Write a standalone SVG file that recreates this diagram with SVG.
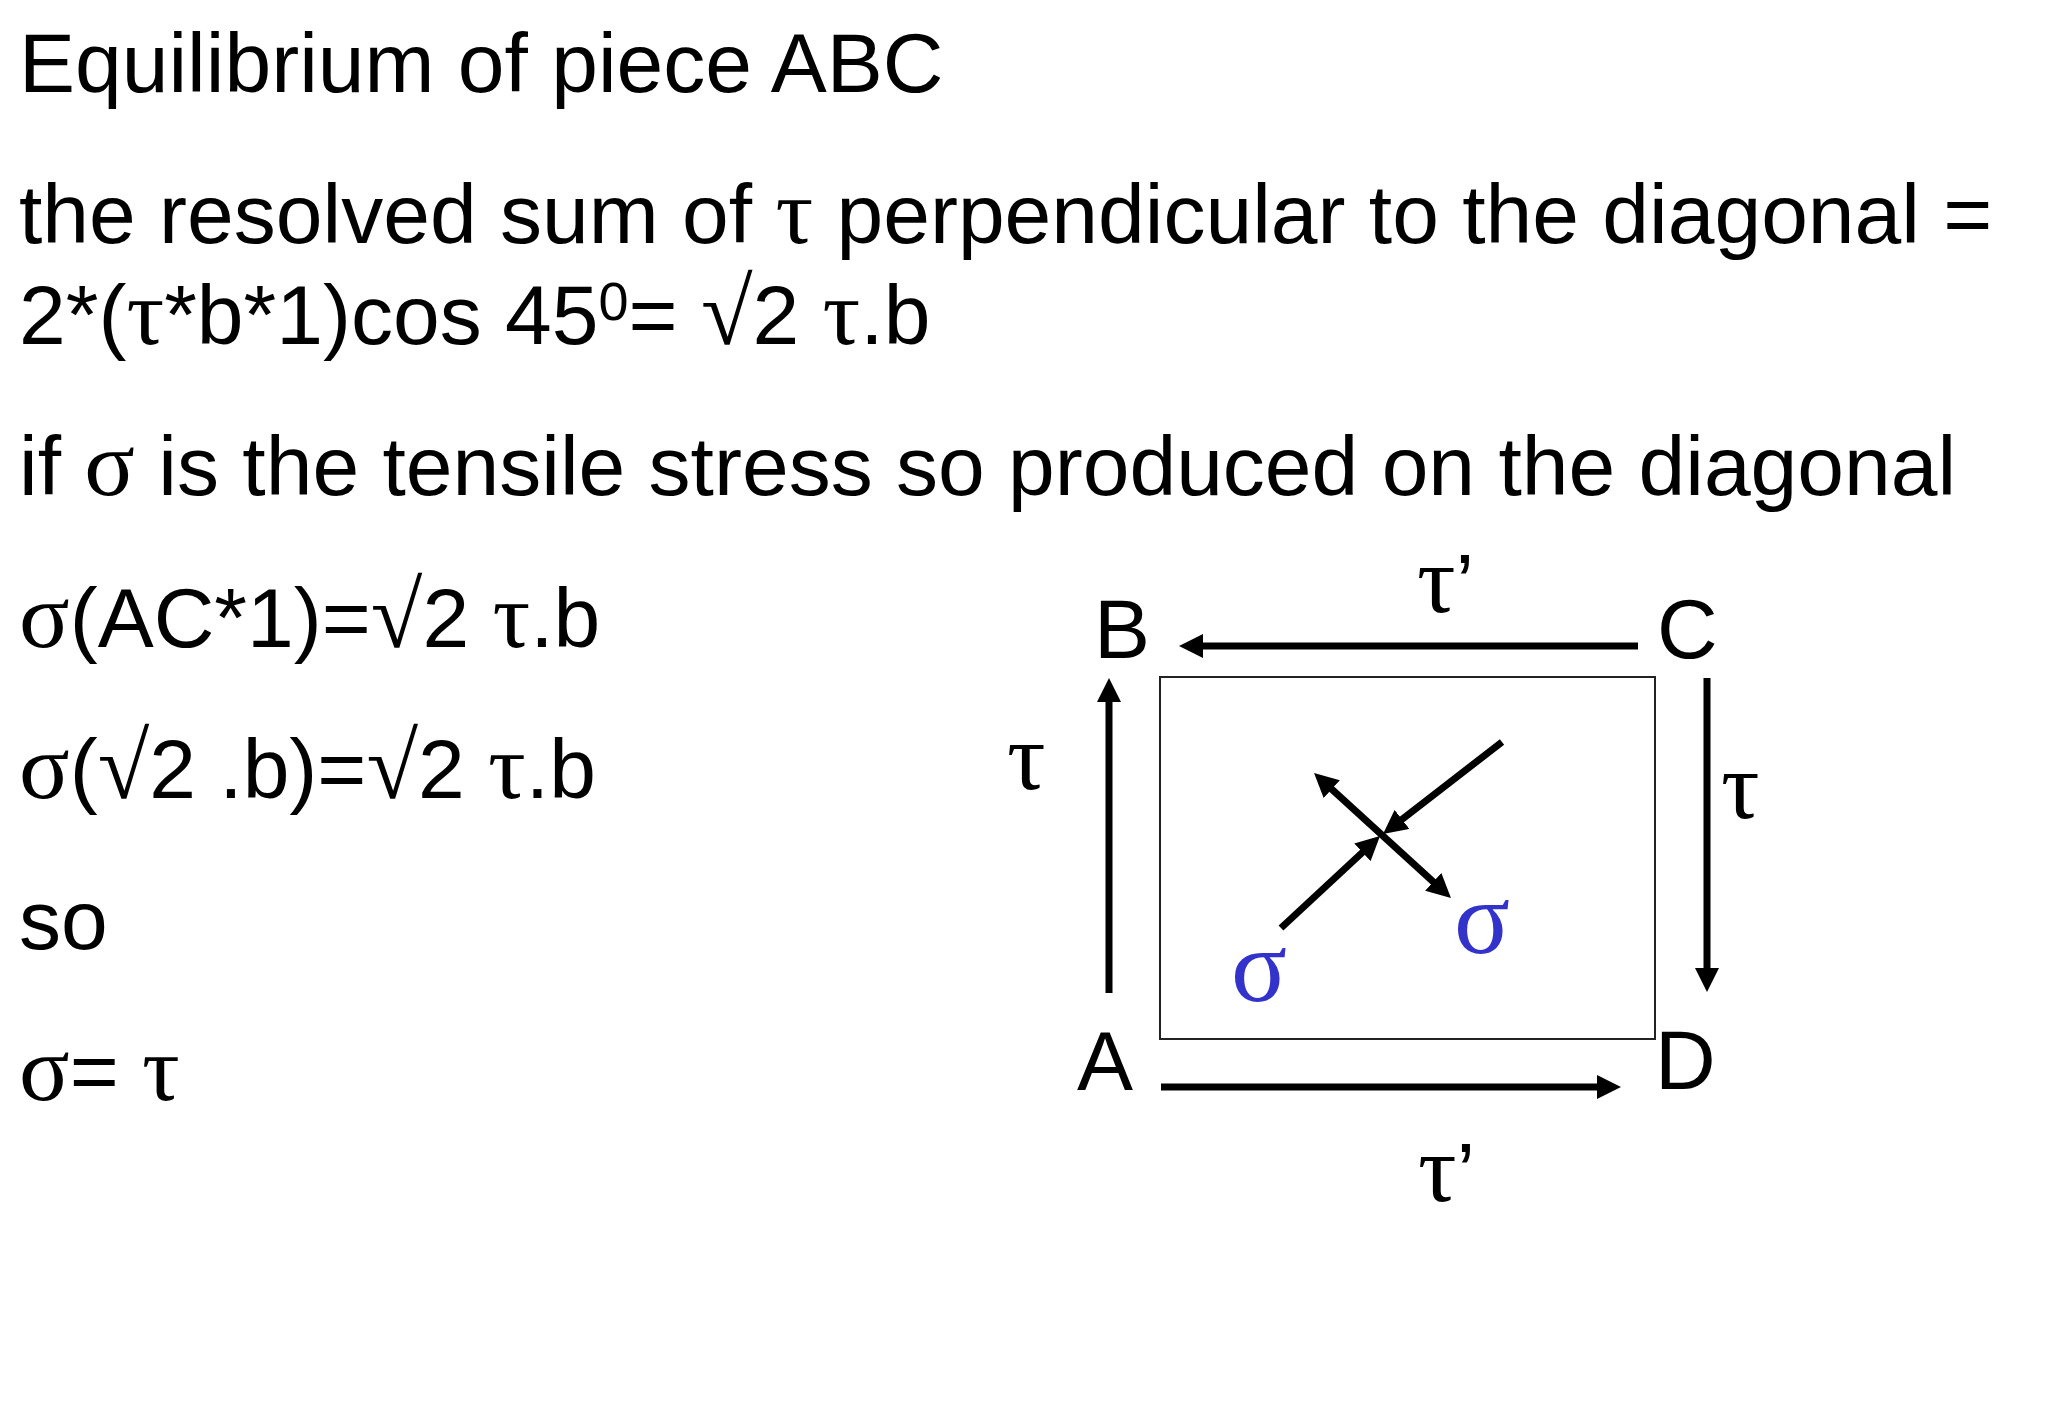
<svg xmlns="http://www.w3.org/2000/svg" width="2048" height="1418" viewBox="0 0 2048 1418">
<style>
.t{font-family:"Liberation Sans",Arial,sans-serif;font-size:84px;fill:#000}
.g{font-family:"Liberation Serif","Times New Roman",serif;font-size:94px}
.lbl{font-family:"Liberation Sans",Arial,sans-serif;font-size:84px;fill:#000}
.gl{font-family:"Liberation Serif","Times New Roman",serif;font-size:96px;fill:#000}
.bs{font-family:"Liberation Serif","Times New Roman",serif;font-size:104px;fill:#3333CC}
.ar{stroke:#000;stroke-width:7;fill:none}
</style>
<defs>
<marker id="ah" viewBox="0 0 24 24" refX="12" refY="12" markerWidth="24" markerHeight="24" markerUnits="userSpaceOnUse" orient="auto-start-reverse">
<path d="M0,0 L24,12 L0,24 z" fill="#000"/>
</marker>
</defs>
<rect width="2048" height="1418" fill="#fff"/>
<g id="text">
<text class="t" x="19" y="92">Equilibrium of piece ABC</text>
<text class="t" x="19" y="243">the resolved sum of <tspan class="g">τ</tspan> perpendicular to the diagonal =</text>
<text class="t" x="19" y="344">2*(<tspan class="g">τ</tspan>*b*1)cos 45<tspan font-size="54" dy="-24">0</tspan><tspan dy="24">= </tspan><tspan class="g">√</tspan>2 <tspan class="g">τ</tspan>.b</text>
<text class="t" x="19" y="495">if <tspan class="g">σ</tspan> is the tensile stress so produced on the diagonal</text>
<text class="t" x="19" y="647"><tspan class="g">σ</tspan>(AC*1)=<tspan class="g">√</tspan>2 <tspan class="g">τ</tspan>.b</text>
<text class="t" x="19" y="798"><tspan class="g">σ</tspan>(<tspan class="g">√</tspan>2 .b)=<tspan class="g">√</tspan>2 <tspan class="g">τ</tspan>.b</text>
<text class="t" x="19" y="949">so</text>
<text class="t" x="19" y="1100"><tspan class="g">σ</tspan>= <tspan class="g">τ</tspan></text>
</g>
<g id="piece">
<rect x="1160" y="677" width="495" height="362" fill="none" stroke="#222" stroke-width="2"/>
</g>
<g id="node-B"><text class="lbl" x="1094" y="658">B</text></g>
<g id="node-C"><text class="lbl" x="1657" y="658">C</text></g>
<g id="node-A"><text class="lbl" x="1077" y="1090">A</text></g>
<g id="node-D"><text class="lbl" x="1655" y="1089">D</text></g>
<g id="labels">
<text class="gl" x="1417" y="612">τ<tspan class="lbl">’</tspan></text>
<text class="gl" x="1007" y="789">τ</text>
<text class="gl" x="1721" y="818">τ</text>
<text class="gl" x="1418" y="1201">τ<tspan class="lbl">’</tspan></text>
<text class="bs" x="1231" y="1001">σ</text>
<text class="bs" x="1454" y="953">σ</text>
</g>
<g id="connectors">
<line class="ar" x1="1638" y1="646" x2="1191" y2="646" marker-end="url(#ah)"/>
<line class="ar" x1="1109" y1="993" x2="1109" y2="690" marker-end="url(#ah)"/>
<line class="ar" x1="1707" y1="678" x2="1707" y2="980" marker-end="url(#ah)"/>
<line class="ar" x1="1161" y1="1087" x2="1609" y2="1087" marker-end="url(#ah)"/>
<line class="ar" x1="1502" y1="742" x2="1392.5" y2="826.7" marker-end="url(#ah)"/>
<line class="ar" x1="1281" y1="928" x2="1371.2" y2="844.2" marker-end="url(#ah)"/>
<line class="ar" x1="1322.9" y1="781.1" x2="1442.1" y2="889.9" marker-start="url(#ah)" marker-end="url(#ah)"/>
</g>
</svg>
